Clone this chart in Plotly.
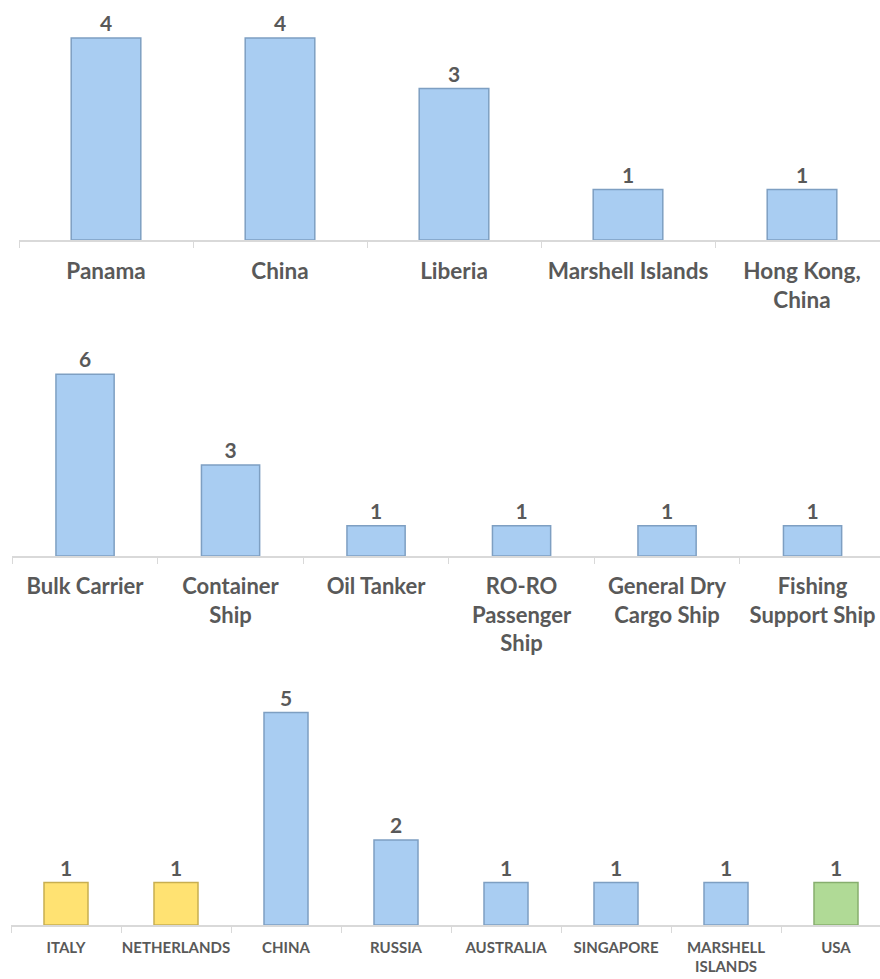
import plotly.graph_objects as go

# ---- data ----
flag_states = ["Panama", "China", "Liberia", "Marshell Islands", "Hong Kong, China"]
flag_labels = ["Panama", "China", "Liberia", "Marshell Islands", "Hong Kong,<br>China"]
flag_counts = [4, 4, 3, 1, 1]

ship_types = ["Bulk Carrier", "Container Ship", "Oil Tanker", "RO-RO Passenger Ship",
              "General Dry Cargo Ship", "Fishing Support Ship"]
ship_labels = ["Bulk Carrier", "Container<br>Ship", "Oil Tanker", "RO-RO<br>Passenger<br>Ship",
               "General Dry<br>Cargo Ship", "Fishing<br>Support Ship"]
ship_counts = [6, 3, 1, 1, 1, 1]

countries = ["ITALY", "NETHERLANDS", "CHINA", "RUSSIA", "AUSTRALIA", "SINGAPORE",
             "MARSHELL ISLANDS", "USA"]
country_labels = ["ITALY", "NETHERLANDS", "CHINA", "RUSSIA", "AUSTRALIA", "SINGAPORE",
                  "MARSHELL<br>ISLANDS", "USA"]
country_counts = [1, 1, 5, 2, 1, 1, 1, 1]
country_group = ["yellow", "yellow", "blue", "blue", "blue", "blue", "blue", "green"]

# ---- styles ----
W, H = 880, 979
FILL = {"blue": "#A9CDF2", "yellow": "#FFE272", "green": "#B0DA96"}
EDGE = {"blue": "#7E9FC2", "yellow": "#C8AE50", "green": "#86AE6E"}
TXT = "#595959"
FONT = "Lato"
GRID = "#D9D9D9"

fig = go.Figure()

def add_bar(cats, vals, groups, xa, ya, label_size=21):
    fig.add_trace(go.Bar(
        x=cats, y=vals, xaxis=xa, yaxis=ya,
        width=0.4,
        marker=dict(color=[FILL[g] for g in groups],
                    line=dict(color=[EDGE[g] for g in groups], width=1.5)),
        text=[str(v) for v in vals], textposition="outside",
        textfont=dict(family=FONT, size=label_size, color=TXT, weight="bold"),
        cliponaxis=False, showlegend=False, hoverinfo="skip",
    ))

add_bar(flag_states, flag_counts, ["blue"] * len(flag_counts), "x", "y")
add_bar(ship_types, ship_counts, ["blue"] * len(ship_counts), "x2", "y2")
add_bar(countries, country_counts, country_group, "x3", "y3")

def xax(cats, labels, left_px, cat_px, size, standoff):
    n = len(cats)
    right_val = (n - 0.5) - ((left_px + n * cat_px) - W) / cat_px
    return dict(
        domain=[left_px / W, 1], range=[-0.5, right_val],
        type="category", tickmode="array", tickvals=cats,
        ticktext=["<b>%s</b>" % t for t in labels],
        tickson="boundaries", ticks="outside", ticklen=6, tickcolor=GRID, tickwidth=1,
        showline=True, linecolor=GRID, linewidth=1.5, showgrid=False,
        tickfont=dict(family=FONT, size=size, color=TXT),
        tickangle=0, ticklabelstandoff=standoff,
        automargin=False, fixedrange=True,
    )

def yax(top_px, axis_px, px_per_unit):
    return dict(
        domain=[(H - axis_px) / H, (H - top_px) / H],
        range=[0, (axis_px - top_px) / px_per_unit],
        visible=False, showgrid=False, zeroline=False, automargin=False, fixedrange=True,
    )

fig.update_layout(
    width=W, height=H,
    margin=dict(l=0, r=0, t=0, b=0),
    paper_bgcolor="white", plot_bgcolor="white",
    bargap=0.6,
    xaxis=dict(xax(flag_states, flag_labels, 19, 174, 22.5, 10), anchor="y"),
    yaxis=dict(yax(5, 240, 50.5), anchor="x"),
    xaxis2=dict(xax(ship_types, ship_labels, 12.3, 145.5, 22, 10), anchor="y2"),
    yaxis2=dict(yax(345, 556, 30.3), anchor="x2"),
    xaxis3=dict(xax(countries, country_labels, 11, 110, 15, 8), anchor="y3"),
    yaxis3=dict(yax(690, 925, 42.5), anchor="x3"),
)

fig.write_html("out.html")
